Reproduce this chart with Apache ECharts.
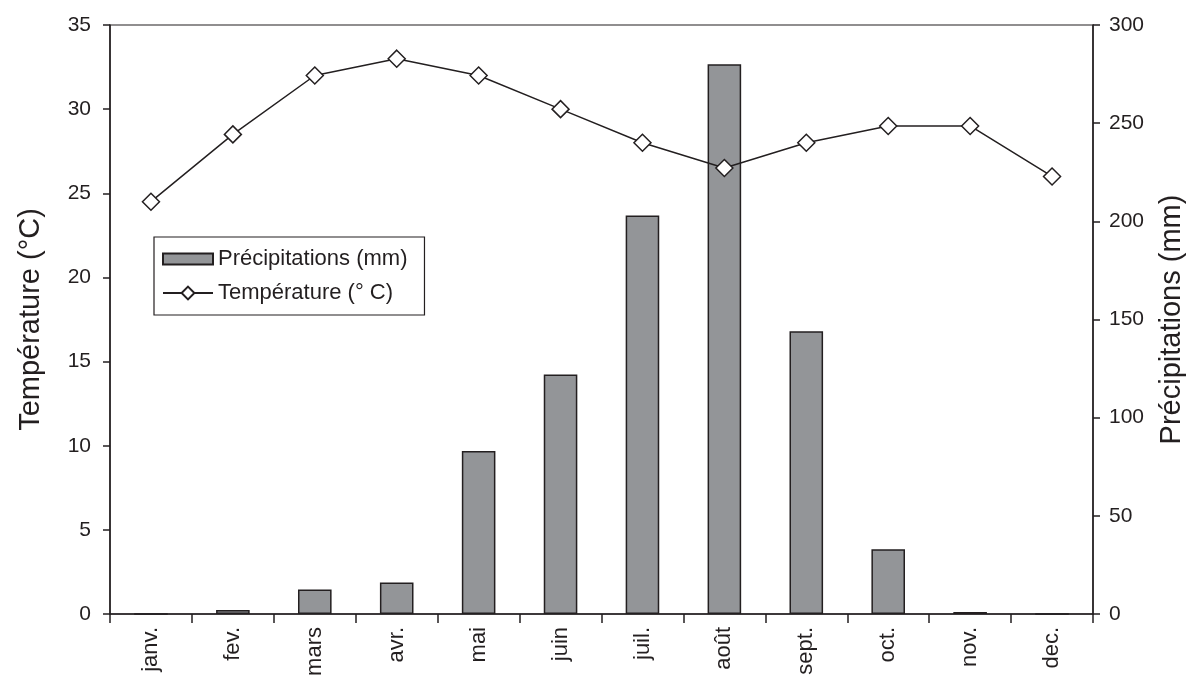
<!DOCTYPE html>
<html>
<head>
<meta charset="utf-8">
<script src="https://cdn.jsdelivr.net/npm/echarts@6/dist/echarts.min.js"></script>
<style>html,body{margin:0;padding:0;background:#fff;}#c{width:1197px;height:680px;}</style>
</head>
<body>
<div id="c"></div>
<script>
const months = ['janv.','fev.','mars','avr.','mai','juin','juil.','août','sept.','oct.','nov.','dec.'];
const precipitations = [0, 2, 12.5, 16, 83, 122, 203, 280, 144, 33, 1, 0];
const temperature = [24.5, 28.5, 32, 33, 32, 30, 28, 26.5, 28, 29, 29, 26];

const ink = '#231f20';
const font = 'Liberation Sans, Arial, sans-serif';
const chart = echarts.init(document.getElementById('c'));
chart.setOption({
  animation: false,
  textStyle: {fontFamily: font, color: ink},
  grid: {left: 110, right: 104, top: 25, bottom: 66, show: true, borderColor: ink, borderWidth: 1.2},
  legend: {
    orient: 'vertical', left: 154, top: 237,
    borderColor: ink, borderWidth: 1.2,
    padding: [11, 17, 11, 8], itemGap: 12,
    itemWidth: 50, itemHeight: 16,
    textStyle: {fontFamily: font, fontSize: 22, color: ink, padding: [0,0,0,0]},
    data: [
      {name: 'Précipitations (mm)', icon: 'path://M0,0 M50,16 M0,2.5 H50 V13.5 H0 Z'},
      {name: 'Température (° C)'}
    ]
  },
  xAxis: {
    type: 'category', data: months, boundaryGap: true,
    axisLine: {lineStyle: {color: ink, width: 1.5}},
    axisTick: {show: true, alignWithLabel: false, length: 9, lineStyle: {color: ink, width: 1.5}},
    axisLabel: {rotate: 90, fontSize: 22, color: ink, margin: 13, fontFamily: font}
  },
  yAxis: [
    {
      type: 'value', min: 0, max: 35, interval: 5, position: 'left',
      name: 'Température (°C)', nameLocation: 'middle', nameGap: 65, nameRotate: 90,
      nameTextStyle: {fontSize: 29, color: ink, fontFamily: font},
      axisLine: {show: true, lineStyle: {color: ink, width: 1.5}},
      axisTick: {show: true, length: 7, lineStyle: {color: ink, width: 1.5}},
      axisLabel: {fontSize: 21, color: ink, margin: 19, fontFamily: font},
      splitLine: {show: false}
    },
    {
      type: 'value', min: 0, max: 300, interval: 50, position: 'right',
      name: 'Précipitations (mm)', nameLocation: 'middle', nameGap: 64, nameRotate: 90,
      nameTextStyle: {fontSize: 29, color: ink, fontFamily: font},
      axisLine: {show: true, lineStyle: {color: ink, width: 1.5}},
      axisTick: {show: true, length: 7, lineStyle: {color: ink, width: 1.5}},
      axisLabel: {fontSize: 21, color: ink, margin: 16, fontFamily: font},
      splitLine: {show: false}
    }
  ],
  series: [
    {
      name: 'Précipitations (mm)', type: 'bar', yAxisIndex: 1, data: precipitations,
      barWidth: '41%',
      itemStyle: {color: '#939598', borderColor: ink, borderWidth: 1.5}
    },
    {
      name: 'Température (° C)', type: 'line', yAxisIndex: 0, data: temperature,
      symbol: 'diamond', symbolSize: 17, showAllSymbol: true,
      lineStyle: {color: ink, width: 1.5},
      itemStyle: {color: '#ffffff', borderColor: ink, borderWidth: 1.5}
    }
  ]
});
</script>
</body>
</html>
